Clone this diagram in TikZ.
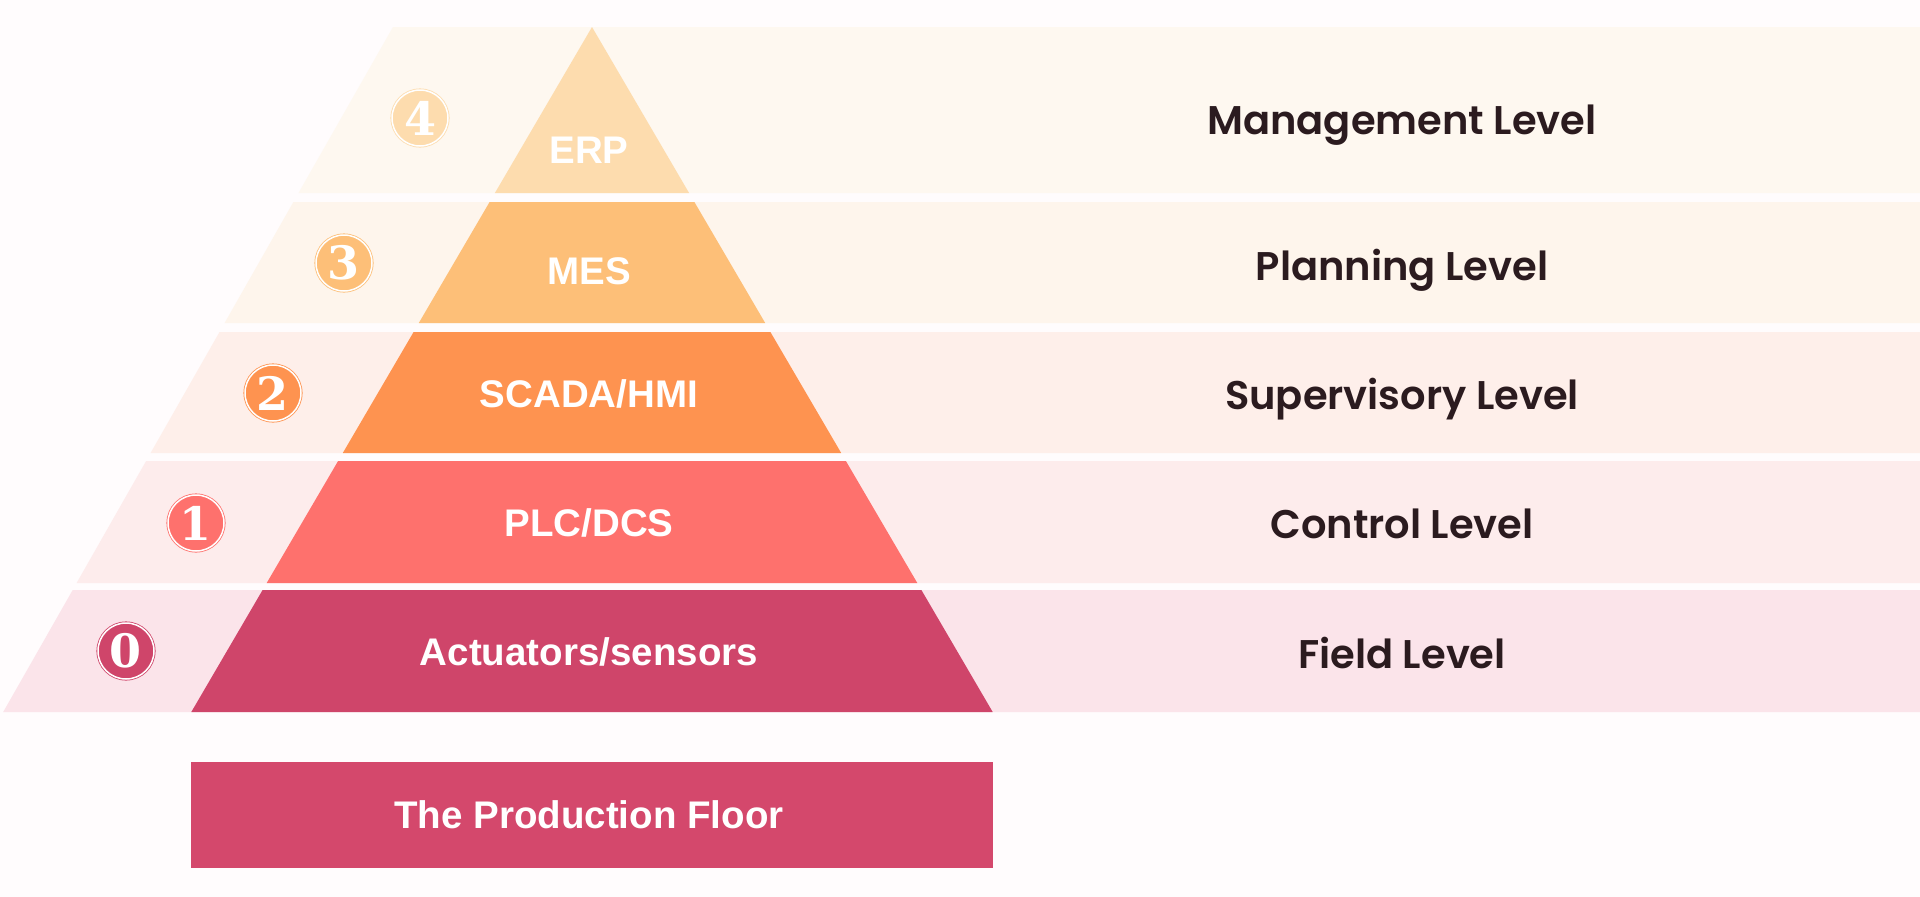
\documentclass[tikz,border=0pt]{standalone}
\usepackage{fontspec}
\setmainfont{Liberation Sans}
\newfontfamily\lvlfont{Poppins}[BoldFont={Poppins SemiBold}]
\newfontfamily\numfont{DejaVu Serif}
\usetikzlibrary{positioning}

\definecolor{bgwhite}{HTML}{FFFCFD}
\definecolor{band4}{HTML}{FEF8F0}
\definecolor{band3}{HTML}{FEF5EC}
\definecolor{band2}{HTML}{FEEFEA}
\definecolor{band1}{HTML}{FDECEC}
\definecolor{band0}{HTML}{FBE4EA}
\definecolor{erpcol}{HTML}{FDDCAE}
\definecolor{mescol}{HTML}{FDBF78}
\definecolor{scadacol}{HTML}{FE9350}
\definecolor{plccol}{HTML}{FE716D}
\definecolor{fieldcol}{HTML}{CF456A}
\definecolor{floorcol}{HTML}{D4486C}
\definecolor{lvltext}{HTML}{2B1B1F}

\tikzset{
	layer/.style={anchor=base, text=white, font=\bfseries\fontsize{38.5}{38.5}\selectfont},
	lvl/.style={anchor=base, text=lvltext, font=\lvlfont\bfseries\fontsize{40}{40}\selectfont},
	badge/.style={circle, minimum size=56pt, inner sep=0pt, draw=#1, fill=#1,
		double=white, double distance=1.5pt, line width=0.8pt,
		text=white, font=\numfont\bfseries\fontsize{46}{46}\selectfont},
}

\begin{document}
\begin{tikzpicture}[x=1pt, y=-1pt]
					\useasboundingbox (0,0) rectangle (1920,897);
					\fill[bgwhite] (0,0) rectangle (1920,897);

					% Level 4
					\fill[band4] (393,27) -- (1920,27) -- (1920,193) -- (298.5,193) -- cycle;
					\fill[erpcol] (592,27) -- (689.1,193) -- (494.9,193) -- cycle;
					\node[badge=erpcol] (n4) at (420,118) {4};
					\node[layer] (erp) at (589,163) {ERP};
					\node[lvl] (management) at (1402,134) {Management Level};

					% Level 3
					\fill[band3] (293.4,202) -- (1920,202) -- (1920,323) -- (224.6,323) -- cycle;
					\fill[mescol] (489.6,202) -- (694.4,202) -- (765.2,323) -- (418.8,323) -- cycle;
					\node[badge=mescol] (n3) at (344,263) {3};
					\node[layer] (mes) at (589,284) {MES};
					\node[lvl] (planning) at (1402,280) {Planning Level};

					% Level 2
					\fill[band2] (219.5,332) -- (1920,332) -- (1920,453) -- (150.6,453) -- cycle;
					\fill[scadacol] (413.6,332) -- (770.4,332) -- (841.2,453) -- (342.8,453) -- cycle;
					\node[badge=scadacol] (n2) at (273,393) {2};
					\node[layer] (scada) at (589,407) {SCADA/HMI};
					\node[lvl] (supervisory) at (1402,409) {Supervisory Level};

					% Level 1
					\fill[band1] (146.1,461) -- (1920,461) -- (1920,583) -- (76.6,583) -- cycle;
					\fill[plccol] (338.1,461) -- (845.9,461) -- (917.3,583) -- (266.7,583) -- cycle;
					\node[badge=plccol] (n1) at (196,523) {1};
					\node[layer] (plc) at (589,536) {PLC/DCS};
					\node[lvl] (control) at (1402,538) {Control Level};

					% Level 0
					\fill[band0] (72.7,590) -- (1920,590) -- (1920,712) -- (3.2,712) -- cycle;
					\fill[fieldcol] (262.6,590) -- (921.4,590) -- (992.7,712) -- (191.3,712) -- cycle;
					\node[badge=fieldcol] (n0) at (126,651) {0};
					\node[layer] (field) at (589,665) {Actuators/sensors};
					\node[lvl] (fieldlvl) at (1402,668) {Field Level};

					% Floor
					\fill[floorcol] (191,762) rectangle (993,868);
					\node[layer] (floor) at (589,828) {The Production Floor};
				\end{tikzpicture}
\end{document}
